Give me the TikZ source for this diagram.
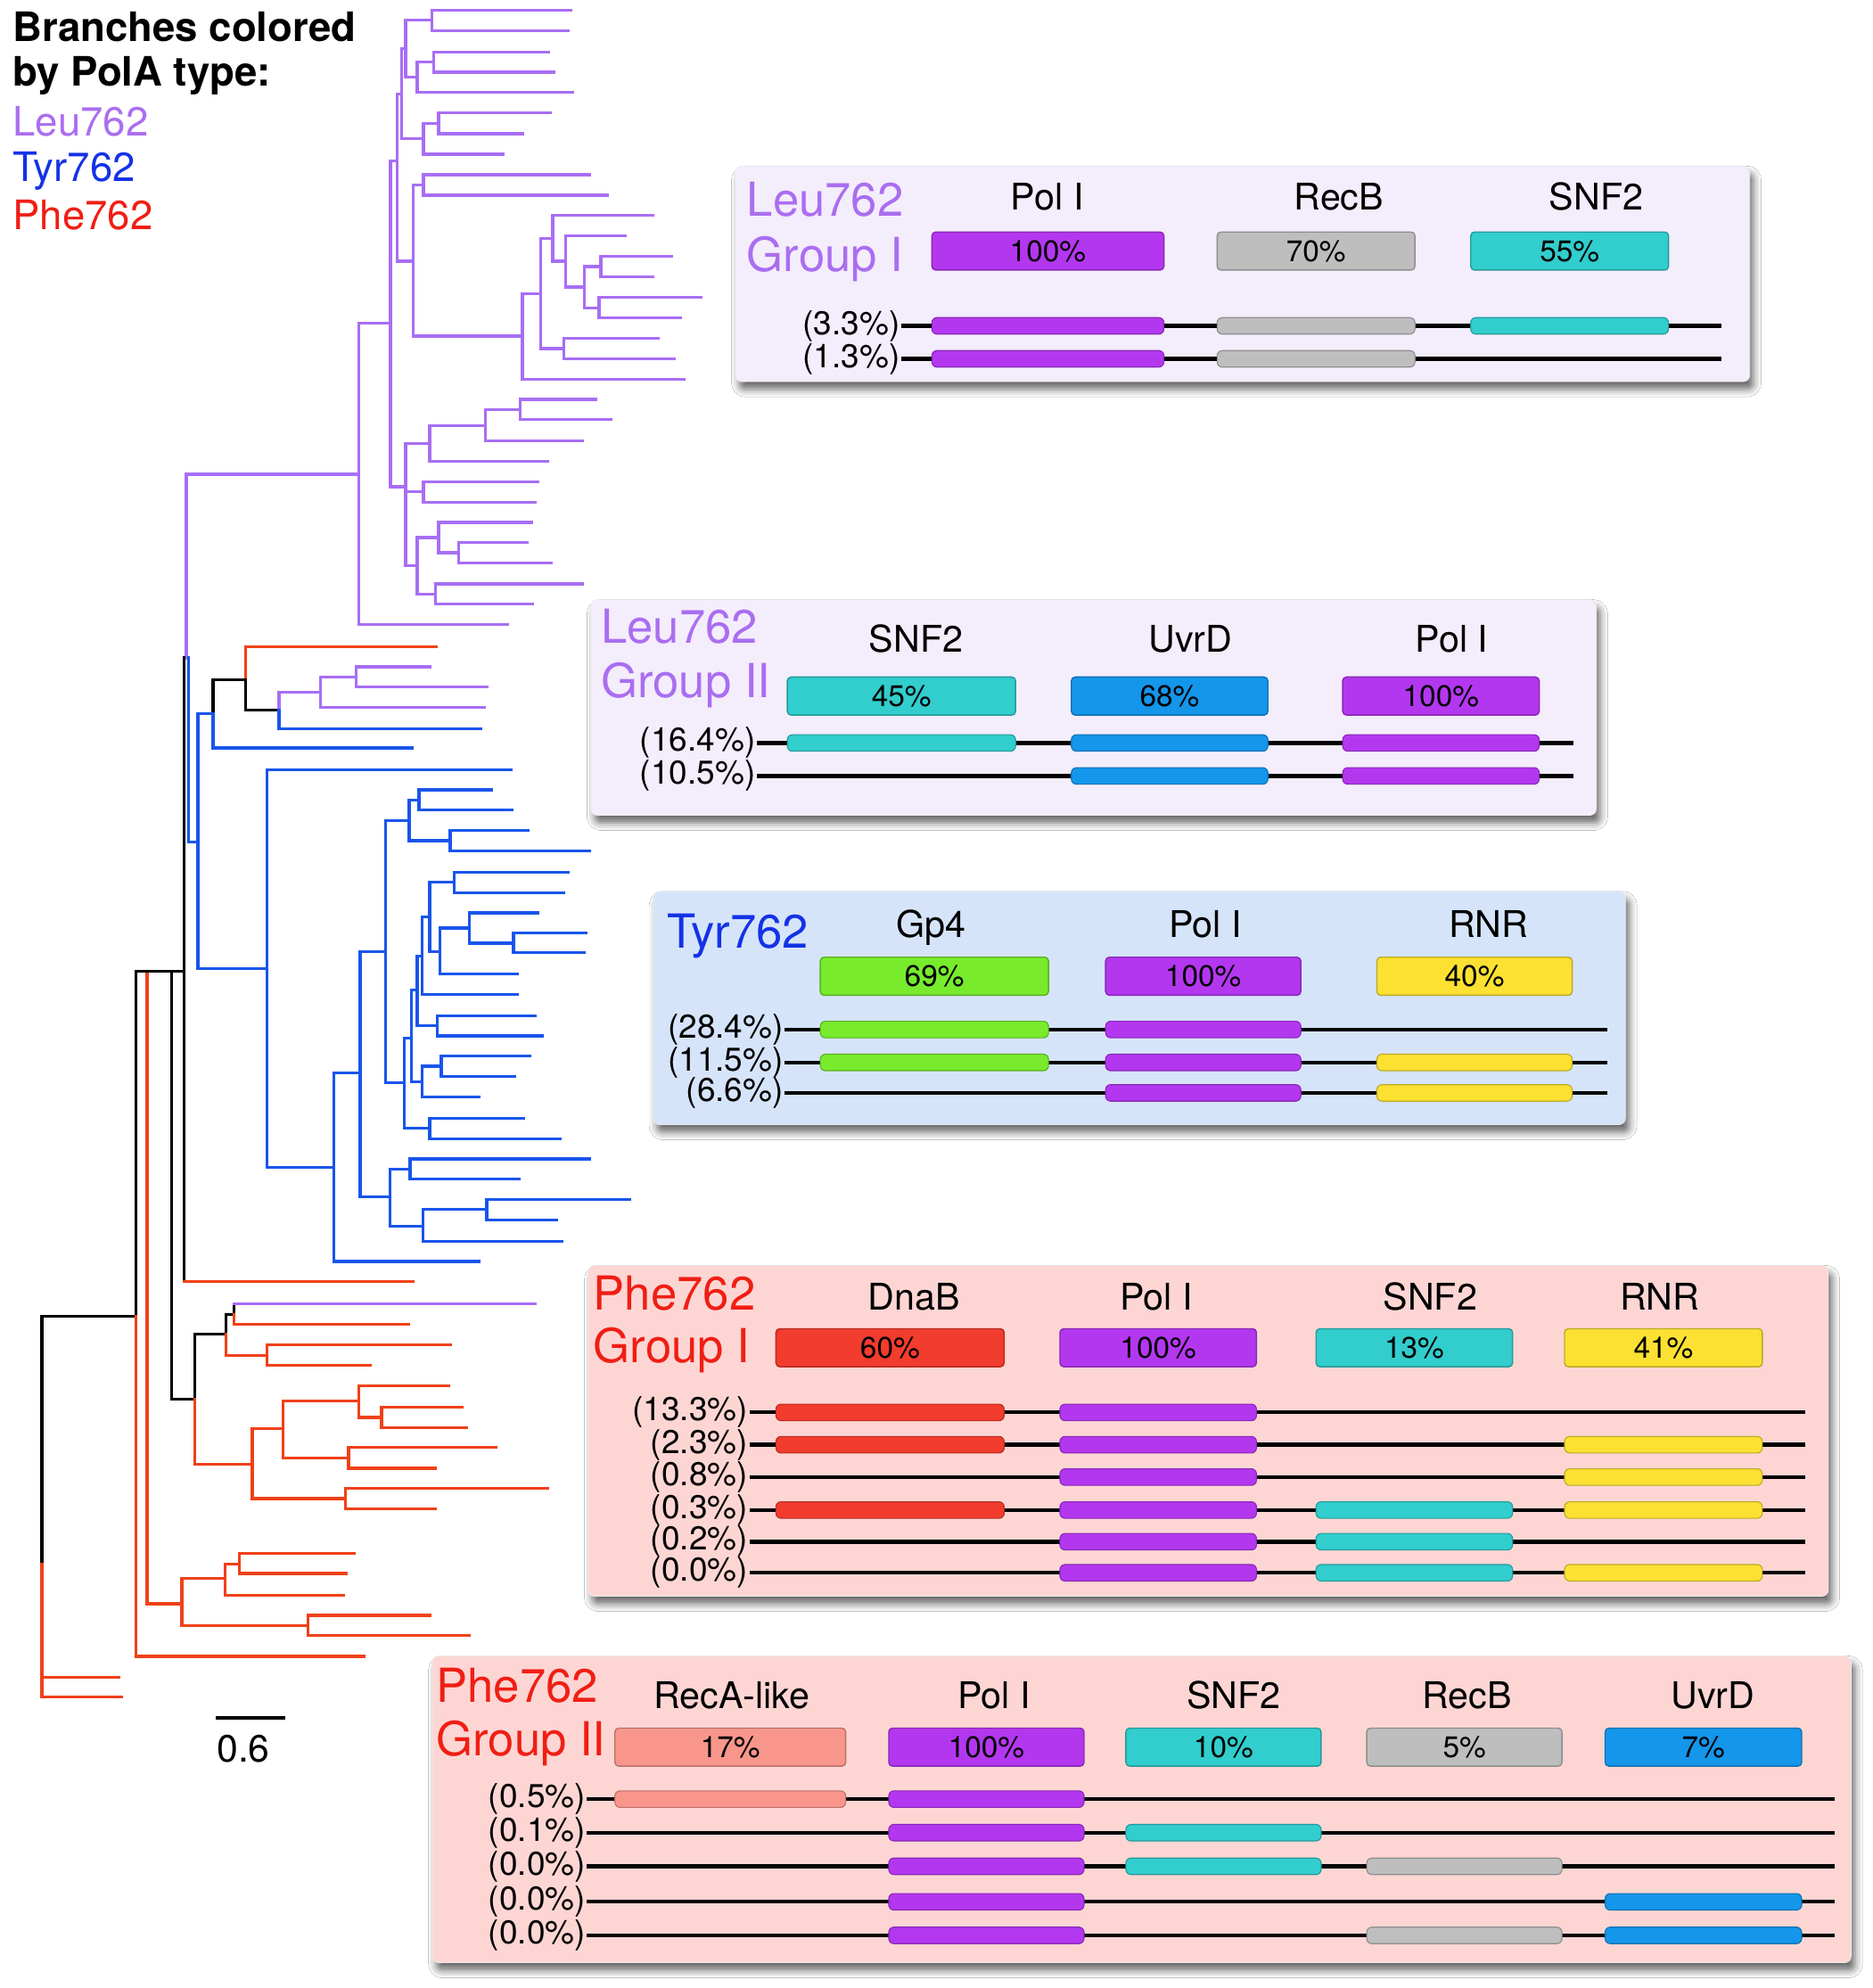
\documentclass[tikz,border=0pt]{standalone}
\usepackage{fontspec}
\setmainfont{TeX Gyre Heros}
\usetikzlibrary{shadows.blur}
\definecolor{tPur}{RGB}{168,110,244}
\definecolor{tBlu}{RGB}{25,85,235}
\definecolor{tRed}{RGB}{240,65,25}
\definecolor{cLeu}{RGB}{170,110,240}
\definecolor{cTyr}{RGB}{20,50,230}
\definecolor{cPhe}{RGB}{240,30,20}
\definecolor{bgLeu}{RGB}{244,237,252}
\definecolor{bgTyr}{RGB}{214,228,250}
\definecolor{bgPhe}{RGB}{253,214,212}
\definecolor{cPol}{RGB}{180,55,240}
\definecolor{cGry}{RGB}{190,190,190}
\definecolor{cCyn}{RGB}{50,205,205}
\definecolor{cUvr}{RGB}{20,150,235}
\definecolor{cGrn}{RGB}{120,235,45}
\definecolor{cYel}{RGB}{252,225,50}
\definecolor{cDna}{RGB}{242,60,45}
\definecolor{cSal}{RGB}{248,150,140}
\newcommand{\ttlfont}{\fontsize{37}{40}\selectfont}
\newcommand{\hdrfont}{\fontsize{29}{32}\selectfont}
\newcommand{\pctfont}{\fontsize{23.5}{25}\selectfont}
\newcommand{\rlabfont}{\fontsize{26}{28}\selectfont}
\newcommand{\legfont}{\fontsize{32}{36}\selectfont}
\newcommand{\hb}[6]{\node[hbar, fill=#2, draw=#2!75!black, minimum width={(#4-#3)*1pt}] (#1) at ({(#3+#4)/2},#5) {#6};}
\newcommand{\rb}[4]{\draw[rbar, fill=#1, draw=#1!75!black] (#2,#4-6.5) rectangle (#3,#4+6.5);}
\newcommand{\rowline}[5]{\node[rlab] (#1) at (#2,#3) {#5}; \coordinate (#1e) at (#4,#3); \draw[rline] (#1.east) -- (#1e);}
\tikzset{
  tp/.style={draw=tPur, line width=2.3pt, line cap=rect},
  tb/.style={draw=tBlu, line width=2.3pt, line cap=rect},
  tr/.style={draw=tRed, line width=2.3pt, line cap=rect},
  tk/.style={draw=black, line width=2.3pt, line cap=rect},
  bx/.style={rectangle, rounded corners=5pt, inner sep=0pt, draw=black!8, line width=0.5pt,
    blur shadow={shadow xshift=3pt, shadow yshift=-6pt, shadow blur radius=6pt, shadow opacity=60}},
  hbar/.style={rectangle, rounded corners=3pt, inner sep=0pt, minimum height=30pt, line width=1pt, font=\pctfont},
  rline/.style={line width=3pt, draw=black},
  rbar/.style={rounded corners=4pt, line width=0.8pt},
  ttl/.style={anchor=base west, inner sep=0pt, font=\ttlfont},
  hdr/.style={anchor=base, inner sep=0pt, font=\hdrfont},
  rlab/.style={anchor=east, inner sep=1pt, font=\rlabfont},
  leg/.style={anchor=base west, inner sep=0pt, font=\legfont},
}
\begin{document}
\begin{tikzpicture}[x=1pt,y=-1pt]
\fill[white] (0,0) rectangle (1477,1568);
\useasboundingbox (0,0) rectangle (1477,1568);

% ---------------- legend ----------------
\node[leg, font=\legfont\bfseries] (lg1) at (10,33) {Branches colored};
\node[leg, font=\legfont\bfseries] (lg2) at (10,68) {by PolA type:};
\node[leg, text=cLeu] (lg3) at (10,107) {Leu762};
\node[leg, text=cTyr] (lg4) at (10,143) {Tyr762};
\node[leg, text=cPhe] (lg5) at (10,181) {Phe762};

% ---------------- tree: upper purple clade ----------------
\draw[tp] (340.6,8.1)--(450,8.1) (340.6,24.2)--(448,24.2) (340.6,8.1)--(340.6,24.2) (320,16)--(340.6,16)
 (342,41)--(433,41) (342,57)--(437,57) (342,41)--(342,57) (329,49)--(342,49)
 (329,73)--(452,73) (329,49)--(329,73) (320,61)--(329,61)
 (320,16)--(320,61) (317,38.5)--(320,38.5)
 (346,89)--(434,89) (346,105.5)--(412,105.5) (346,89)--(346,105.5) (334,97.3)--(346,97.3)
 (334,121.7)--(397,121.7) (334,97.3)--(334,121.7) (317,109.5)--(334,109.5)
 (317,38.5)--(317,109.5) (313,74)--(317,74)
 (334,137.8)--(465,137.8) (334,154)--(479,154) (334,137.8)--(334,154) (326,146)--(334,146)
 (474,202)--(529.5,202) (474,218.5)--(515,218.5) (474,202)--(474,218.5) (461,210.3)--(474,210.3)
 (472.5,234.6)--(553,234.6) (472.5,250.7)--(537,250.7) (472.5,234.6)--(472.5,250.7) (461,242.7)--(472.5,242.7)
 (461,210.3)--(461,242.7) (446,226.5)--(461,226.5)
 (446,186)--(493,186) (446,186)--(446,226.5) (436,206)--(446,206)
 (436,170)--(515,170) (436,170)--(436,206) (426.5,188)--(436,188)
 (444.5,267)--(519,267) (444.5,283)--(532,283) (444.5,267)--(444.5,283) (426.5,275)--(444.5,275)
 (426.5,188)--(426.5,275) (412,231.5)--(426.5,231.5)
 (412,299)--(539.5,299) (412,231.5)--(412,299) (326,265)--(412,265)
 (326,146)--(326,265) (313,206)--(326,206)
 (313,74)--(313,206) (308,127)--(313,127)
 (410.5,315)--(469.6,315) (410.5,331)--(482,331) (410.5,315)--(410.5,331) (383,323)--(410.5,323)
 (383,347.5)--(459.6,347.5) (383,323)--(383,347.5) (339,335.5)--(383,335.5)
 (339,363.7)--(432,363.7) (339,335.5)--(339,363.7) (320,350)--(339,350)
 (334,380)--(424,380) (334,396)--(422,396) (334,380)--(334,396) (320,388)--(334,388)
 (362,428)--(416,428) (362,444)--(434.5,444) (362,428)--(362,444) (346,436)--(362,436)
 (346,412)--(419.5,412) (346,412)--(346,436) (329,424)--(346,424)
 (343.5,460.5)--(459.6,460.5) (343.5,476.6)--(420,476.6) (343.5,460.5)--(343.5,476.6) (329,468.5)--(343.5,468.5)
 (329,424)--(329,468.5) (320,446)--(329,446)
 (320,350)--(320,446) (308,384)--(320,384)
 (308,127)--(308,384) (283,255)--(308,255)
 (283,492.7)--(400,492.7) (283,255)--(283,492.7) (147,374)--(283,374)
 (147,374)--(147,519);

% ---------------- tree: middle ----------------
\draw[tr] (193.6,510)--(344,510) (193.6,510)--(193.6,536);
\draw[tk] (168,536)--(193.6,536) (193.6,536)--(193.6,560) (193.6,560)--(220,560) (168,536)--(168,563);
\draw[tp] (220,546)--(220,560) (220,546)--(253,546) (253,534)--(253,558) (253,534)--(281,534)
 (281,526)--(281,542) (281,526)--(339,526) (281,542)--(384,542) (253,558)--(382,558);
\draw[tb] (220,560)--(220,575) (220,575)--(379,575)
 (168,563)--(168,590) (168,590)--(325,590) (156,563)--(168,563)
 (156,563)--(156,764) (148.5,664)--(156,664) (148.5,519)--(148.5,664)
 (210.5,607)--(403,607) (156,764)--(210.5,764) (210.5,607)--(210.5,921) (210.5,921)--(263.5,921)
 (263.5,846)--(263.5,995) (263.5,995)--(378,995) (263.5,846)--(284,846)
 (284,750.5)--(284,944) (284,750.5)--(304,750.5)
 (304,647)--(304,854) (304,647)--(322.7,647)
 (322.7,631)--(322.7,663) (322.7,631)--(330.5,631) (330.5,623)--(330.5,639) (330.5,623)--(388,623) (330.5,639)--(404,639)
 (322.7,663)--(355,663) (355,655)--(355,671) (355,655)--(416.6,655) (355,671)--(465,671)
 (304,854)--(319,854) (319,819)--(319,890) (319,819)--(324.5,819) (324.5,781)--(324.5,853)
 (324.5,781)--(329,781) (329,754)--(329,809) (329,754)--(333,754) (333,723)--(333,784.5)
 (333,723)--(339,723) (339,696)--(339,750.5) (339,696)--(358.5,696) (358.5,688)--(358.5,704)
 (358.5,688)--(448,688) (358.5,704)--(444.5,704)
 (339,750.5)--(347,750.5) (347,732)--(347,768) (347,732)--(370,732) (370,720)--(370,744)
 (370,720)--(424,720) (370,744)--(405,744) (405,736)--(405,751.5) (405,736)--(462.5,736) (405,751.5)--(460.7,751.5)
 (347,768)--(408,768) (333,784.5)--(408,784.5)
 (329,809)--(345,809) (345,801)--(345,817) (345,801)--(422,801) (345,817)--(428,817)
 (324.5,853)--(333,853) (333,841)--(333,865) (333,841)--(348,841) (348,833)--(348,849)
 (348,833)--(418,833) (348,849)--(406,849) (333,865)--(378,865)
 (319,890)--(339,890) (339,882)--(339,898) (339,882)--(413,882) (339,898)--(441.7,898)
 (284,944)--(307.6,944) (307.6,922)--(307.6,967) (307.6,922)--(323.4,922) (323.4,914)--(323.4,930)
 (323.4,914)--(465,914) (323.4,930)--(409.5,930)
 (307.6,967)--(333.4,967) (333.4,954)--(333.4,979) (333.4,954)--(384,954) (384,946)--(384,962)
 (384,946)--(497,946) (384,962)--(439,962) (333.4,979)--(443,979);

% ---------------- tree: lower ----------------
\draw[tk] (145,519)--(145,1011) (107,766)--(145,766) (135.5,766)--(135.5,1103.5) (135.5,1103.5)--(153.4,1103.5)
 (153.4,1052)--(153.4,1103.5) (153.4,1052)--(178,1052) (178,1037)--(178,1052) (178,1037)--(184.6,1037)
 (184.6,1028.5)--(184.6,1037) (107,766)--(107,1038) (33,1038)--(107,1038) (33,1038)--(33,1234);
\draw[tr] (145,1011)--(326,1011)
 (153.4,1103.5)--(153.4,1155) (153.4,1155)--(199,1155)
 (178,1052)--(178,1069) (184.6,1037)--(184.6,1044.6) (184.6,1044.6)--(322.6,1044.6)
 (178,1069)--(210.4,1069) (210.4,1060.5)--(210.4,1077) (210.4,1060.5)--(355.6,1060.5) (210.4,1077)--(292,1077)
 (199,1127)--(199,1182) (199,1127)--(223,1127) (223,1105)--(223,1150) (223,1105)--(283,1105)
 (283,1093)--(283,1118) (283,1093)--(354,1093) (283,1118)--(301,1118) (301,1110)--(301,1126)
 (301,1110)--(364.6,1110) (301,1126)--(368,1126)
 (223,1150)--(275,1150) (275,1141.6)--(275,1158) (275,1141.6)--(391,1141.6) (275,1158)--(343.5,1158)
 (199,1182)--(272.5,1182) (272.5,1174)--(272.5,1190) (272.5,1174)--(432,1174) (272.5,1190)--(343.5,1190)
 (116,768)--(116,1265) (116,1265)--(143.4,1265) (143.4,1245)--(143.4,1282) (143.4,1245)--(177.5,1245)
 (177.5,1233.5)--(177.5,1258) (177.5,1233.5)--(189,1233.5) (189,1225)--(189,1241)
 (189,1225)--(279.6,1225) (189,1241)--(273,1241) (177.5,1258)--(270.7,1258)
 (143.4,1282)--(243,1282) (243,1274)--(243,1290) (243,1274)--(339.5,1274) (243,1290)--(370,1290)
 (107,1038)--(107,1306.5) (107,1306.5)--(287,1306.5)
 (33,1234)--(33,1338.5) (33,1322.7)--(94,1322.7) (33,1338.5)--(96,1338.5);
\draw[tp] (184.6,1028.5)--(422,1028.5);

% scale bar
\coordinate (sb1) at (170,1355);
\coordinate (sb2) at (225,1355);
\draw[line width=2.3pt] (sb1) -- (sb2);
\node[inner sep=0pt, font=\fontsize{30}{32}\selectfont] (sbl) at (192,1379) {0.6};

% ---------------- Box 1: Leu762 Group I ----------------
\node[bx, fill=bgLeu, minimum width=800pt, minimum height=170pt] (box1) at (980,216) {};
\node[ttl, text=cLeu] (b1t1) at (589,170.3) {Leu762};
\node[ttl, text=cLeu] (b1t2) at (589,214.3) {Group I};
\node[hdr] (b1h1) at (826,165.5) {Pol I};
\node[hdr] (b1h2) at (1056,165.5) {RecB};
\node[hdr] (b1h3) at (1259,165.5) {SNF2};
\hb{b1b1}{cPol}{735}{918}{198}{100\%}
\hb{b1b2}{cGry}{960}{1116}{198}{70\%}
\hb{b1b3}{cCyn}{1160}{1316}{198}{55\%}
\rowline{b1r1}{711}{257}{1358}{(3.3\%)}
\rb{cPol}{735}{918}{257} \rb{cGry}{960}{1116}{257} \rb{cCyn}{1160}{1316}{257}
\rowline{b1r2}{711}{283}{1358}{(1.3\%)}
\rb{cPol}{735}{918}{283} \rb{cGry}{960}{1116}{283}

% ---------------- Box 2: Leu762 Group II ----------------
\node[bx, fill=bgLeu, minimum width=793pt, minimum height=170pt] (box2) at (862.5,558) {};
\node[ttl, text=cLeu] (b2t1) at (474,507.3) {Leu762};
\node[ttl, text=cLeu] (b2t2) at (474,550.3) {Group II};
\node[hdr] (b2h1) at (722.5,514.5) {SNF2};
\node[hdr] (b2h2) at (939,514.5) {UvrD};
\node[hdr] (b2h3) at (1145,514.5) {Pol I};
\hb{b2b1}{cCyn}{621}{801}{549}{45\%}
\hb{b2b2}{cUvr}{845}{1000}{549}{68\%}
\hb{b2b3}{cPol}{1059}{1214}{549}{100\%}
\rowline{b2r1}{597}{586}{1241}{(16.4\%)}
\rb{cCyn}{621}{801}{586} \rb{cUvr}{845}{1000}{586} \rb{cPol}{1059}{1214}{586}
\rowline{b2r2}{597}{612}{1241}{(10.5\%)}
\rb{cUvr}{845}{1000}{612} \rb{cPol}{1059}{1214}{612}

% ---------------- Box 3: Tyr762 ----------------
\node[bx, fill=bgTyr, minimum width=767pt, minimum height=184pt] (box3) at (898.5,795) {};
\node[ttl, text=cTyr] (b3t1) at (526,748) {Tyr762};
\node[hdr] (b3h1) at (734.5,739.5) {Gp4};
\node[hdr] (b3h2) at (950.5,739.5) {Pol I};
\node[hdr] (b3h3) at (1174,739.5) {RNR};
\hb{b3b1}{cGrn}{647}{827}{770}{69\%}
\hb{b3b2}{cPol}{872}{1026}{770}{100\%}
\hb{b3b3}{cYel}{1086}{1240}{770}{40\%}
\rowline{b3r1}{619}{812}{1268}{(28.4\%)}
\rb{cGrn}{647}{827}{812} \rb{cPol}{872}{1026}{812}
\rowline{b3r2}{619}{838}{1268}{(11.5\%)}
\rb{cGrn}{647}{827}{838} \rb{cPol}{872}{1026}{838} \rb{cYel}{1086}{1240}{838}
\rowline{b3r3}{619}{862}{1268}{(6.6\%)}
\rb{cPol}{872}{1026}{862} \rb{cYel}{1086}{1240}{862}

% ---------------- Box 4: Phe762 Group I ----------------
\node[bx, fill=bgPhe, minimum width=978pt, minimum height=261pt] (box4) at (953,1128.5) {};
\node[ttl, text=cPhe] (b4t1) at (468,1033.3) {Phe762};
\node[ttl, text=cPhe] (b4t2) at (468,1074.8) {Group I};
\node[hdr] (b4h1) at (721,1033.2) {DnaB};
\node[hdr] (b4h2) at (912,1033.2) {Pol I};
\node[hdr] (b4h3) at (1128,1033.2) {SNF2};
\node[hdr] (b4h4) at (1309,1033.2) {RNR};
\hb{b4b1}{cDna}{612}{792}{1063}{60\%}
\hb{b4b2}{cPol}{836}{991}{1063}{100\%}
\hb{b4b3}{cCyn}{1038}{1193}{1063}{13\%}
\hb{b4b4}{cYel}{1234}{1390}{1063}{41\%}
\rowline{b4r1}{591}{1114}{1424}{(13.3\%)}
\rb{cDna}{612}{792}{1114} \rb{cPol}{836}{991}{1114}
\rowline{b4r2}{591}{1139.5}{1424}{(2.3\%)}
\rb{cDna}{612}{792}{1139.5} \rb{cPol}{836}{991}{1139.5} \rb{cYel}{1234}{1390}{1139.5}
\rowline{b4r3}{591}{1165}{1424}{(0.8\%)}
\rb{cPol}{836}{991}{1165} \rb{cYel}{1234}{1390}{1165}
\rowline{b4r4}{591}{1191}{1424}{(0.3\%)}
\rb{cDna}{612}{792}{1191} \rb{cPol}{836}{991}{1191} \rb{cCyn}{1038}{1193}{1191} \rb{cYel}{1234}{1390}{1191}
\rowline{b4r5}{591}{1216}{1424}{(0.2\%)}
\rb{cPol}{836}{991}{1216} \rb{cCyn}{1038}{1193}{1216}
\rowline{b4r6}{591}{1240.5}{1424}{(0.0\%)}
\rb{cPol}{836}{991}{1240.5} \rb{cCyn}{1038}{1193}{1240.5} \rb{cYel}{1234}{1390}{1240.5}

% ---------------- Box 5: Phe762 Group II ----------------
\node[bx, fill=bgPhe, minimum width=1119pt, minimum height=242pt] (box5) at (900.5,1427) {};
\node[ttl, text=cPhe] (b5t1) at (344,1342.3) {Phe762};
\node[ttl, text=cPhe] (b5t2) at (344,1384.9) {Group II};
\node[hdr] (b5h1) at (577,1347.5) {RecA-like};
\node[hdr] (b5h2) at (784,1347.5) {Pol I};
\node[hdr] (b5h3) at (973,1347.5) {SNF2};
\node[hdr] (b5h4) at (1157,1347.5) {RecB};
\node[hdr] (b5h5) at (1351,1347.5) {UvrD};
\hb{b5b1}{cSal}{485}{667}{1378}{17\%}
\hb{b5b2}{cPol}{701}{855}{1378}{100\%}
\hb{b5b3}{cCyn}{888}{1042}{1378}{10\%}
\hb{b5b4}{cGry}{1078}{1232}{1378}{5\%}
\hb{b5b5}{cUvr}{1266}{1421}{1378}{7\%}
\rowline{b5r1}{463}{1419}{1447}{(0.5\%)}
\rb{cSal}{485}{667}{1419} \rb{cPol}{701}{855}{1419}
\rowline{b5r2}{463}{1445.5}{1447}{(0.1\%)}
\rb{cPol}{701}{855}{1445.5} \rb{cCyn}{888}{1042}{1445.5}
\rowline{b5r3}{463}{1472}{1447}{(0.0\%)}
\rb{cPol}{701}{855}{1472} \rb{cCyn}{888}{1042}{1472} \rb{cGry}{1078}{1232}{1472}
\rowline{b5r4}{463}{1500}{1447}{(0.0\%)}
\rb{cPol}{701}{855}{1500} \rb{cUvr}{1266}{1421}{1500}
\rowline{b5r5}{463}{1526.5}{1447}{(0.0\%)}
\rb{cPol}{701}{855}{1526.5} \rb{cGry}{1078}{1232}{1526.5} \rb{cUvr}{1266}{1421}{1526.5}
\end{tikzpicture}
\end{document}
